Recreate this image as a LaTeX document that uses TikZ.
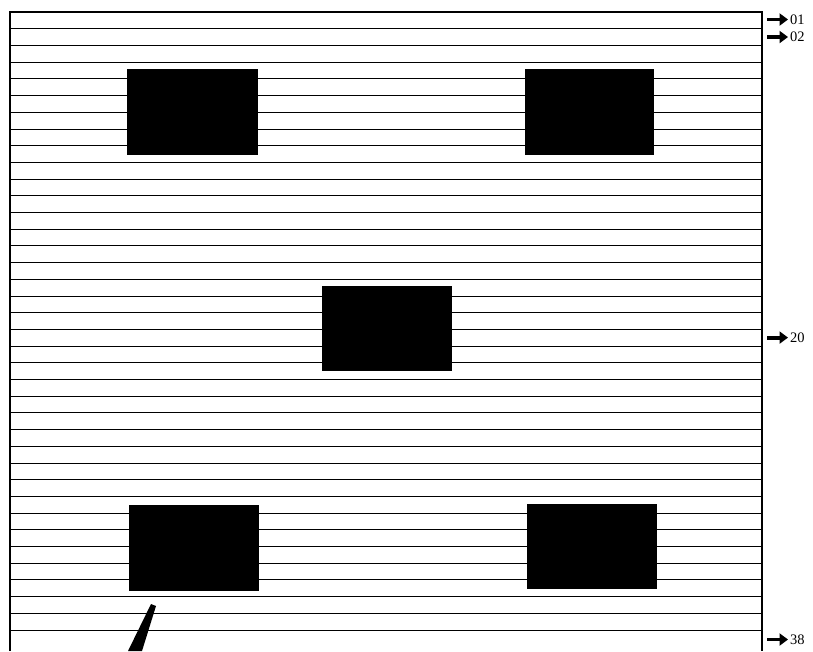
\documentclass[tikz,border=0pt]{standalone}
\usepackage{fontspec}
\setmainfont{Liberation Serif}
\usetikzlibrary{arrows.meta}
\begin{document}
\begin{tikzpicture}[x=1pt,y=-1pt,
  rowline/.style={line width=0.8pt},
  frame/.style={line width=2pt},
  blk/.style={fill=black,draw=none},
  lbl/.style={font=\fontsize{14.5}{14.5}\selectfont, anchor=west, inner sep=0pt},
  marker/.style={line width=3.8pt, -{Triangle[length=8.5pt,width=12pt]}}]
\useasboundingbox (0,0) rectangle (813,651);
\foreach \k in {0,...,37} \draw[rowline] (10,{12+16.7*\k}) -- (762,{12+16.7*\k});
\draw[frame] (10,651) -- (10,12) -- (762,12) -- (762,651);
% black blocks
\fill[blk] (127,69) rectangle (258,155);
\fill[blk] (525,69) rectangle (654,155);
\fill[blk] (322,286) rectangle (452,371);
\fill[blk] (129,505) rectangle (259,591);
\fill[blk] (527,504) rectangle (657,589);
% slanted stroke
\fill[black] (151,604) -- (156,606) -- (142,651) -- (128,651) -- cycle;
% row markers
\node[lbl] (l01) at (790,19.5) {01};
\node[lbl] (l02) at (790,37) {02};
\node[lbl] (l20) at (790,337.6) {20};
\node[lbl] (l38) at (790,639.5) {38};
\coordinate (a01) at (767,19.5);
\coordinate (a02) at (767,37);
\coordinate (a20) at (767,337.6);
\coordinate (a38) at (767,639.5);
\draw[marker] (a01) -- ([xshift=-2pt]l01.west);
\draw[marker] (a02) -- ([xshift=-2pt]l02.west);
\draw[marker] (a20) -- ([xshift=-2pt]l20.west);
\draw[marker] (a38) -- ([xshift=-2pt]l38.west);
\end{tikzpicture}
\end{document}
